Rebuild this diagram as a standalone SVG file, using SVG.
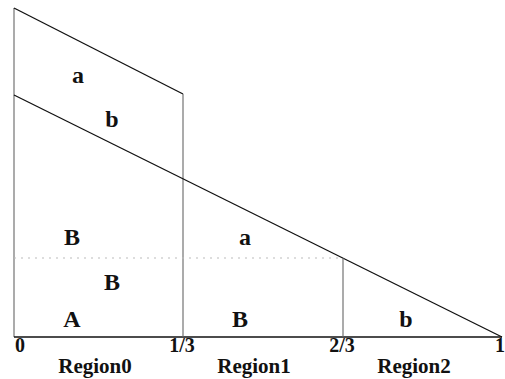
<svg xmlns="http://www.w3.org/2000/svg" width="505" height="379" viewBox="0 0 505 379">
<style>
.ln{stroke:#111;stroke-width:1.3;fill:none}
.gl{stroke:#666;stroke-width:1.1;fill:none}
.dt{stroke:#bbb;stroke-width:1;stroke-dasharray:2 5;fill:none}
text{font-family:"Liberation Serif","Times New Roman",serif;font-weight:bold;fill:#111;text-anchor:middle}
.lb{font-size:24px}
.nm{font-size:20px}
.rg{font-size:21px}
</style>
<rect width="505" height="379" fill="#fff"/>
<g id="lines">
<line class="gl" x1="14" y1="8" x2="14" y2="337"/>
<line class="ln" x1="14" y1="337" x2="502" y2="337"/>
<line class="ln" x1="14" y1="8" x2="183" y2="94"/>
<line class="gl" x1="183" y1="94" x2="183" y2="337"/>
<line class="ln" x1="14" y1="95" x2="502" y2="337"/>
<line class="gl" x1="343" y1="258" x2="343" y2="337"/>
<line class="dt" x1="14" y1="258" x2="343" y2="258"/>
</g>
<g id="labels">
<text class="lb" x="78" y="83">a</text>
<text class="lb" x="112" y="127">b</text>
<text class="lb" x="72" y="245">B</text>
<text class="lb" x="245" y="245">a</text>
<text class="lb" x="112" y="290">B</text>
<text class="lb" x="72" y="327">A</text>
<text class="lb" x="240" y="327">B</text>
<text class="lb" x="406" y="327">b</text>
</g>
<g id="axis">
<text class="nm" x="20" y="352">0</text>
<text class="nm" x="182" y="352">1/3</text>
<text class="nm" x="342" y="352">2/3</text>
<text class="nm" x="500" y="352">1</text>
<text class="rg" x="95" y="373">Region0</text>
<text class="rg" x="254" y="373">Region1</text>
<text class="rg" x="414" y="373">Region2</text>
</g>
</svg>
